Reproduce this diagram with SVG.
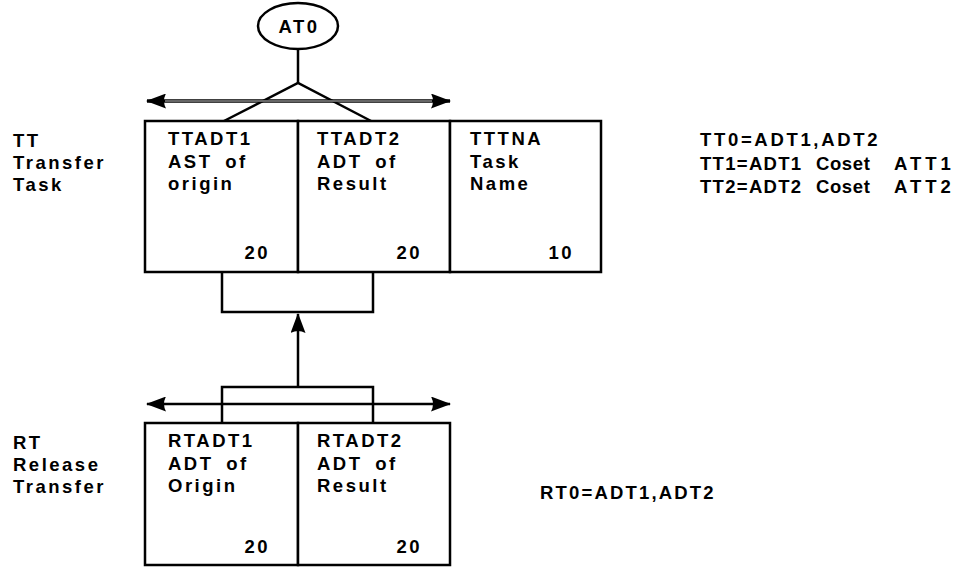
<svg xmlns="http://www.w3.org/2000/svg" width="968" height="571" viewBox="0 0 968 571">
<style>
text{font-family:"Liberation Sans",Arial,sans-serif;font-weight:bold;font-size:18.5px;letter-spacing:2.5px;fill:#000}
.box{fill:#fff;stroke:#000;stroke-width:2.5}
.ln{fill:none;stroke:#000;stroke-width:2.5}
.wd{word-spacing:5px}
.r1{letter-spacing:1.3px}
.r2{letter-spacing:0.6px}
.r3{letter-spacing:4px}
</style>
<defs>
<marker id="ah" viewBox="0 0 20 15" refX="19" refY="7.5" markerWidth="20" markerHeight="15" orient="auto-start-reverse" markerUnits="userSpaceOnUse"><path d="M0,0 L20,7.5 L0,15 Q4,7.5 0,0 Z" fill="#000"/></marker>
</defs>
<rect width="968" height="571" fill="#fff"/>
<g id="labels">
<text x="13" y="147">TT</text><text x="13" y="169">Transfer</text><text x="13" y="191">Task</text>
<text x="13" y="449">RT</text><text x="13" y="471">Release</text><text x="13" y="493">Transfer</text>
<text x="700" y="146" textLength="180" lengthAdjust="spacing">TT0=ADT1,ADT2</text>
<text class="r1" x="700" y="170">TT1=ADT1</text>
<text class="r2" x="816" y="170">Coset</text>
<text class="r3" x="894" y="170">ATT1</text>
<text class="r1" x="700" y="193">TT2=ADT2</text>
<text class="r2" x="816" y="193">Coset</text>
<text class="r3" x="894" y="193">ATT2</text>
<text x="540" y="499" textLength="176" lengthAdjust="spacing">RT0=ADT1,ADT2</text>
</g>
<g id="connectors">
<line class="ln" x1="298" y1="49" x2="298" y2="83"/>
<polyline class="ln" points="222,122 298,83 373,122"/>
<line x1="147" y1="101" x2="450" y2="101" stroke="#000" stroke-width="3.5" marker-start="url(#ah)" marker-end="url(#ah)"/>
<line x1="165" y1="101" x2="432" y2="101" stroke="#ccc" stroke-width="1.2"/>
<polyline class="ln" points="222,272 222,312 373,312 373,272"/>
<line class="ln" x1="298" y1="387" x2="298" y2="314" marker-end="url(#ah)"/>
<polyline class="ln" points="222,423 222,387 373,387 373,423"/>
<line class="ln" x1="147" y1="404" x2="450" y2="404" marker-start="url(#ah)" marker-end="url(#ah)"/>
</g>
<g id="AT0">
<ellipse class="box" cx="298" cy="26" rx="40" ry="23"/>
<text x="299" y="33" text-anchor="middle" font-size="19">AT0</text>
</g>
<g id="TTADT1">
<rect class="box" x="145" y="121" width="153" height="151"/>
<text x="168" y="145">TTADT1</text><text class="wd" x="168" y="168">AST of</text><text x="168" y="190">origin</text>
<text x="270" y="259" text-anchor="end">20</text>
</g>
<g id="TTADT2">
<rect class="box" x="298" y="121" width="152" height="151"/>
<text x="317" y="145">TTADT2</text><text class="wd" x="317" y="168">ADT of</text><text x="317" y="190">Result</text>
<text x="422" y="259" text-anchor="end">20</text>
</g>
<g id="TTTNA">
<rect class="box" x="450" y="121" width="151" height="151"/>
<text x="470" y="145">TTTNA</text><text x="470" y="168">Task</text><text x="470" y="190">Name</text>
<text x="574" y="259" text-anchor="end">10</text>
</g>
<g id="RTADT1">
<rect class="box" x="145" y="423" width="153" height="142"/>
<text x="168" y="447">RTADT1</text><text class="wd" x="168" y="470">ADT of</text><text x="168" y="492">Origin</text>
<text x="270" y="553" text-anchor="end">20</text>
</g>
<g id="RTADT2">
<rect class="box" x="298" y="423" width="152" height="142"/>
<text x="317" y="447">RTADT2</text><text class="wd" x="317" y="470">ADT of</text><text x="317" y="492">Result</text>
<text x="422" y="553" text-anchor="end">20</text>
</g>
</svg>
